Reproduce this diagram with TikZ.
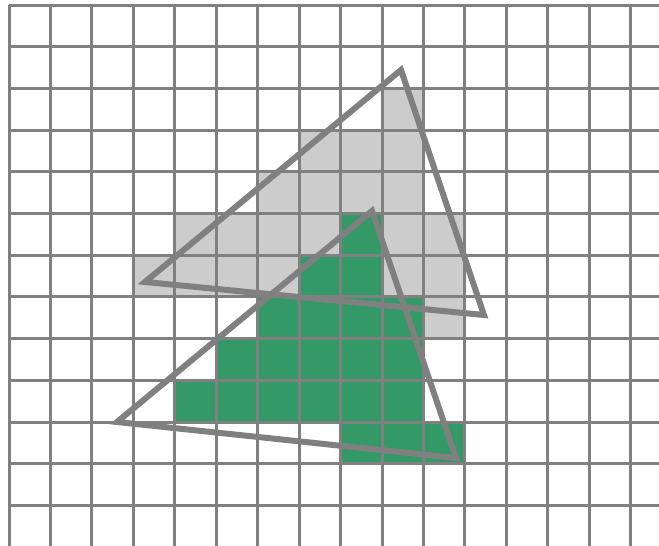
\documentclass[tikz,border=0pt]{standalone}
\definecolor{gridgray}{RGB}{128,128,128}
\definecolor{lightcell}{RGB}{204,204,204}
\definecolor{greencell}{RGB}{51,153,102}
\tikzset{
  gridline/.style={draw=gridgray, line width=3pt},
  graycell/.style={fill=lightcell},
  greenfill/.style={fill=greencell},
  tri/.style={draw=gridgray, line width=6pt, line join=miter}
}
\begin{document}
\begin{tikzpicture}[x=1pt,y=-1pt]
\useasboundingbox (0,0) rectangle (659,546);
\def\dx{41.45}
\def\dy{41.7}
% light gray cells (col,row)
\foreach \c/\r in {9/2, 7/3,8/3,9/3, 6/4,7/4,8/4,9/4, 4/5,5/5,6/5,7/5,9/5,10/5, 3/6,4/6,5/6,6/6,9/6,10/6, 10/7}
  \fill[graycell] ({9+\dx*\c},{5+\dy*\r}) rectangle ++(\dx,\dy);
% green cells
\foreach \c/\r in {8/5, 7/6,8/6, 6/7,7/7,8/7,9/7, 5/8,6/8,7/8,8/8,9/8, 4/9,5/9,6/9,7/9,8/9,9/9, 8/10,9/10,10/10}
  \fill[greenfill] ({9+\dx*\c},{5+\dy*\r}) rectangle ++(\dx,\dy);
% grid
\foreach \i in {0,...,15}
  \draw[gridline] ({9+\dx*\i},5) -- ({9+\dx*\i},546);
\foreach \j in {0,...,12}
  \draw[gridline] (9,{5+\dy*\j}) -- (659,{5+\dy*\j});
% triangles
\coordinate (a1) at (401,70);
\coordinate (a2) at (145,282);
\coordinate (a3) at (484,315);
\coordinate (b1) at (372,211);
\coordinate (b2) at (117,422);
\coordinate (b3) at (456,458);
\draw[tri] (a1) -- (a2) -- (a3) -- cycle;
\draw[tri] (b1) -- (b2) -- (b3) -- cycle;
\end{tikzpicture}
\end{document}
